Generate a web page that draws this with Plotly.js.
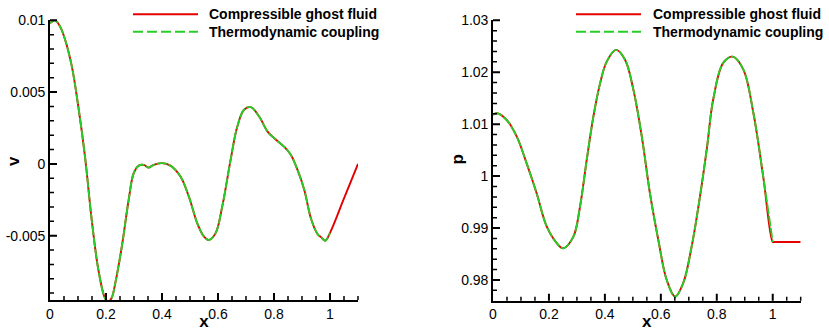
<!DOCTYPE html>
<html>
<head>
<meta charset="utf-8">
<script src="https://cdn.plot.ly/plotly-3.0.1.min.js"></script>
<style>
html,body{margin:0;padding:0;background:#fff;}
#chart{width:829px;height:331px;}
</style>
</head>
<body>
<div id="chart"></div>
<script>
// ---- Left panel: v(x) ----
var xV = [0, 0.018, 0.036, 0.054, 0.078, 0.101, 0.125, 0.149, 0.173, 0.197, 0.209, 0.221, 0.233, 0.257, 0.281, 0.299, 0.317, 0.335, 0.352, 0.37, 0.40, 0.43, 0.466, 0.496, 0.526, 0.55, 0.567, 0.591, 0.615, 0.645, 0.669, 0.693, 0.717, 0.747, 0.777, 0.80, 0.836, 0.86, 0.884, 0.908, 0.932, 0.956, 0.968, 0.983, 1.0, 1.05, 1.1];
var vGhost = [0.0098, 0.01, 0.00957, 0.00865, 0.00679, 0.0040, 0.00051, -0.0039, -0.0074, -0.00937, -0.0096, -0.0093, -0.00832, -0.0057, -0.0025, -0.00065, -0.00012, -0.00007, -0.00026, -0.00007, 0.00005, -0.00012, -0.00088, -0.00228, -0.00414, -0.00507, -0.0053, -0.00484, -0.00298, 0.00028, 0.0026, 0.00377, 0.00395, 0.0033, 0.00225, 0.0018, 0.0012, 0.00063, -0.00042, -0.0018, -0.0038, -0.0049, -0.0051, -0.00535, -0.0048, -0.0024, 0.0];
var xVThermo = xV.slice(0, 45);
var vThermo = vGhost.slice(0, 45);

// ---- Right panel: p(x) ----
var xP = [0, 0.015, 0.049, 0.085, 0.12, 0.156, 0.192, 0.228, 0.251, 0.287, 0.311, 0.335, 0.359, 0.383, 0.407, 0.44, 0.472, 0.502, 0.532, 0.561, 0.591, 0.621, 0.651, 0.68, 0.71, 0.738, 0.765, 0.787, 0.823, 0.857, 0.895, 0.931, 0.966, 1.0, 1.005, 1.1];
var pGhost = [1.0118, 1.0121, 1.0108, 1.0076, 1.0025, 0.9967, 0.9903, 0.9871, 0.9861, 0.9883, 0.9941, 1.0031, 1.0115, 1.0179, 1.0221, 1.0243, 1.0224, 1.0166, 1.0076, 0.9967, 0.9877, 0.980, 0.9768, 0.9794, 0.9864, 0.9954, 1.0055, 1.0147, 1.0218, 1.023, 1.0205, 1.0121, 0.9999, 0.9873, 0.9873, 0.9873];
var xPThermo = xP.slice(0, 34);
var pThermo = pGhost.slice(0, 34);

// ---- Labels / ticks ----
var seriesNames = ["Compressible ghost fluid", "Thermodynamic coupling"];
var axisTitles = ["x", "v", "p"];
var xTickVals = [0, 0.2, 0.4, 0.6, 0.8, 1];
var xTickText = ["0", "0.2", "0.4", "0.6", "0.8", "1"];
var vTickVals = [-0.005, 0, 0.005, 0.01];
var vTickText = ["-0.005", "0", "0.005", "0.01"];
var pTickVals = [0.98, 0.99, 1.0, 1.01, 1.02, 1.03];
var pTickText = ["0.98", "0.99", "1", "1.01", "1.02", "1.03"];

var RED = "rgb(228,0,0)";
var GREEN = "rgb(40,205,40)";
var FONT = "Liberation Sans, Arial, Helvetica, sans-serif";
var LW = 1.9;

var traces = [
  {x: xV, y: vGhost, mode: "lines", line: {color: RED, width: LW, shape: "spline", smoothing: 1}, xaxis: "x", yaxis: "y", name: seriesNames[0], showlegend: false},
  {x: xVThermo, y: vThermo, mode: "lines", line: {color: GREEN, width: LW, dash: "10px,2px", shape: "spline", smoothing: 1}, xaxis: "x", yaxis: "y", name: seriesNames[1], showlegend: false},
  {x: xP, y: pGhost, mode: "lines", line: {color: RED, width: LW, shape: "spline", smoothing: 1}, xaxis: "x2", yaxis: "y2", name: seriesNames[0], showlegend: false},
  {x: xPThermo, y: pThermo, mode: "lines", line: {color: GREEN, width: LW, dash: "10px,2px", shape: "spline", smoothing: 1}, xaxis: "x2", yaxis: "y2", name: seriesNames[1], showlegend: false}
];

var W = 829, H = 331;
var dom = {
  x: [50 / W, 358 / W], y: [31 / H, 310.7 / H],
  x2: [493 / W, 800.7 / W], y2: [30.3 / H, 310.7 / H]
};
var xRange = [0, 1.1];
var vRange = [-0.00948, 0.01];
var pRange = [0.97601, 1.03];

function baseAxis() {
  return {
    ticks: "", showline: true, linecolor: "black", linewidth: 1.8,
    showgrid: false, zeroline: false,
    tickfont: {family: FONT, size: 14, color: "black"}
  };
}
function xAxis(domain, anchor) {
  var a = baseAxis();
  a.domain = domain; a.anchor = anchor; a.range = xRange;
  a.tickmode = "array"; a.tickvals = xTickVals; a.ticktext = xTickText;
  a.title = {text: axisTitles[0], font: {family: FONT, size: 17, color: "black", weight: "bold"}, standoff: 0};
  return a;
}
function yAxis(domain, anchor, range, tv, tt) {
  var a = baseAxis();
  a.domain = domain; a.anchor = anchor; a.range = range;
  a.tickmode = "array"; a.tickvals = tv; a.ticktext = tt;
  return a;
}

// Inside tick marks (decoration): one combined SVG path per axis, in paper coordinates
function rng(a, b, step) {
  var out = [], n = Math.round((b - a) / step);
  for (var i = 0; i <= n; i++) out.push(+(a + i * step).toFixed(6));
  return out;
}
function isMajor(v, majors) {
  return majors.some(function (m) { return Math.abs(m - v) < 1e-9; });
}
function lin(v, range, domain) {
  return domain[0] + (v - range[0]) / (range[1] - range[0]) * (domain[1] - domain[0]);
}
function f(n) { return n.toFixed(6); }
function xTickPath(xd, yd, vals, majors, wantMajor) {
  var d = "";
  vals.forEach(function (v) {
    if (isMajor(v, majors) !== wantMajor) return;
    var px = lin(v, xRange, xd);
    d += "M" + f(px) + "," + f(yd[0]) + "L" + f(px) + "," + f(yd[0] + (wantMajor ? 7 : 4) / H);
  });
  return {type: "path", xref: "paper", yref: "paper", path: d, line: {color: "black", width: wantMajor ? 2 : 1.5}};
}
function yTickPath(xd, yd, range, vals, majors, wantMajor) {
  var d = "";
  vals.forEach(function (v) {
    if (isMajor(v, majors) !== wantMajor) return;
    var py = lin(v, range, yd);
    d += "M" + f(xd[0]) + "," + f(py) + "L" + f(xd[0] + (wantMajor ? 7 : 4) / W) + "," + f(py);
  });
  return {type: "path", xref: "paper", yref: "paper", path: d, line: {color: "black", width: wantMajor ? 2 : 1.5}};
}
var xAll = rng(0.05, 1.1, 0.05);
var vAll = rng(-0.009, 0.01, 0.001);
var pAll = rng(0.978, 1.03, 0.002);
var tickShapes = [
  xTickPath(dom.x, dom.y, xAll, xTickVals, true), xTickPath(dom.x, dom.y, xAll, xTickVals, false),
  yTickPath(dom.x, dom.y, vRange, vAll, vTickVals, true), yTickPath(dom.x, dom.y, vRange, vAll, vTickVals, false),
  xTickPath(dom.x2, dom.y2, xAll, xTickVals, true), xTickPath(dom.x2, dom.y2, xAll, xTickVals, false),
  yTickPath(dom.x2, dom.y2, pRange, pAll, pTickVals, true), yTickPath(dom.x2, dom.y2, pRange, pAll, pTickVals, false)
];

// legend drawn as shapes + annotations (paper coordinates)
function legendParts(x0px, x1px, textPx) {
  var rows = [14.3, 31.7];
  var shapes = [
    {type: "line", xref: "paper", yref: "paper", x0: x0px / W, x1: x1px / W, y0: 1 - rows[0] / H, y1: 1 - rows[0] / H, line: {color: RED, width: LW}},
    {type: "line", xref: "paper", yref: "paper", x0: x0px / W, x1: x1px / W, y0: 1 - rows[1] / H, y1: 1 - rows[1] / H, line: {color: GREEN, width: LW, dash: "10px,4px"}}
  ];
  var anns = seriesNames.map(function (n, i) {
    return {xref: "paper", yref: "paper", x: textPx / W, y: 1 - rows[i] / H, xanchor: "left", yanchor: "middle", showarrow: false,
      text: n, font: {family: FONT, size: 14, color: "black", weight: "bold"}};
  });
  return {shapes: shapes, anns: anns};
}
var L1 = legendParts(133, 198, 207);
var L2 = legendParts(576, 641, 650.5);

// rotated y-axis titles
var yTitles = [
  {xref: "paper", yref: "paper", x: 13 / W, y: 1 - 161 / H, text: axisTitles[1]},
  {xref: "paper", yref: "paper", x: 456.5 / W, y: 1 - 160 / H, text: axisTitles[2]}
].map(function (a) {
  a.textangle = -90; a.showarrow = false; a.xanchor = "center"; a.yanchor = "middle";
  a.font = {family: FONT, size: 17, color: "black", weight: "bold"};
  return a;
});

var layout = {
  width: W, height: H,
  margin: {l: 0, r: 0, t: 0, b: 0},
  paper_bgcolor: "white", plot_bgcolor: "white",
  showlegend: false,
  xaxis: xAxis(dom.x, "y"),
  yaxis: yAxis(dom.y, "x", vRange, vTickVals, vTickText),
  xaxis2: xAxis(dom.x2, "y2"),
  yaxis2: yAxis(dom.y2, "x2", pRange, pTickVals, pTickText),
  shapes: tickShapes.concat(L1.shapes, L2.shapes),
  annotations: L1.anns.concat(L2.anns, yTitles)
};

Plotly.newPlot("chart", traces, layout, {displayModeBar: false, staticPlot: true});
</script>
</body>
</html>
